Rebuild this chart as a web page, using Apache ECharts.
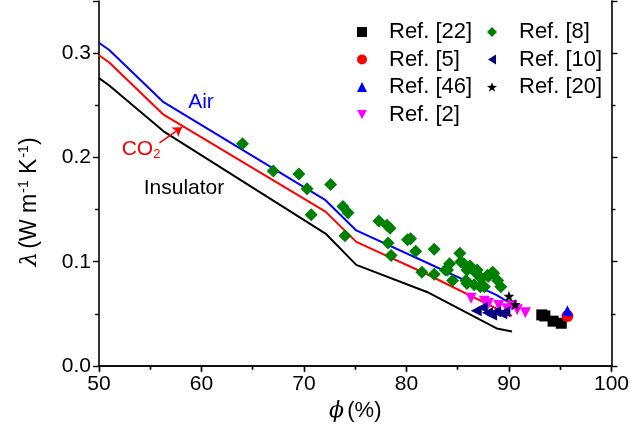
<!DOCTYPE html>
<html>
<head>
<meta charset="utf-8">
<script src="https://cdn.jsdelivr.net/npm/echarts@6/dist/echarts.min.js"></script>
<style>
  html, body { margin: 0; padding: 0; background: #fff; }
  #chart { width: 632px; height: 446px; }
</style>
</head>
<body>
<div id="chart"></div>
<script>
// Model curves: thermal conductivity vs porosity for different pore gases
const airCurve = [[50,0.310],[51,0.303],[56.3,0.253],[72.1,0.159],[75.1,0.130],[82,0.099],[88.8,0.068],[90.5,0.058]];
const co2Curve = [[50,0.298],[51,0.291],[56.3,0.241],[72.1,0.148],[75.1,0.119],[82,0.088],[88.8,0.055],[90.3,0.048]];
const insulatorCurve = [[50,0.276],[51,0.269],[56.3,0.225],[72.1,0.127],[75.1,0.097],[82,0.071],[88.8,0.036],[90.3,0.033]];

// Literature measurements
const ref22 = [[93.2,0.049],[93.5,0.048],[94.3,0.043],[95.1,0.041]];
const ref5 = [[95.7,0.048]];
const ref46 = [[95.7,0.053]];
const ref2 = [[86.3,0.065],[87.6,0.062],[88.0,0.060],[89.0,0.058],[89.8,0.055],[90.3,0.058],[90.8,0.054],[91.6,0.051]];
const ref8 = [[64.0,0.213],[67.0,0.187],[69.5,0.184],[70.3,0.170],[70.7,0.145],[72.6,0.174],[73.8,0.153],[74.3,0.147],[74.0,0.125],
  [77.3,0.139],[78.1,0.135],[78.4,0.132],[78.2,0.118],[78.5,0.106],[80.1,0.121],[80.4,0.122],[80.9,0.110],[82.7,0.112],
  [81.5,0.090],[82.7,0.088],[83.8,0.092],[85.2,0.108],[84.2,0.098],[84.0,0.092],[84.5,0.082],[85.6,0.098],[85.9,0.092],
  [86.9,0.092],[87.9,0.087],[88.4,0.090],[87.2,0.076],[85.8,0.082],[86.6,0.078],[86.8,0.089],[88.0,0.086],[88.5,0.089],
  [89.2,0.076],[87.6,0.076],[85.9,0.079],[85.3,0.100],[86.2,0.096],[87.3,0.084],[88.9,0.082]];
const ref10 = [[86.8,0.053],[87.4,0.056],[87.9,0.051],[88.3,0.049],[88.7,0.052],[89.3,0.050],[89.6,0.052]];
const ref20 = [[90.0,0.067],[90.6,0.059]];

const xTicks = [50, 60, 70, 80, 90, 100];
const yTicks = [0.0, 0.1, 0.2, 0.3];

const FONT = 'Liberation Sans, Arial, sans-serif';
const STAR = 'path://M0,-10L2.35,-3.24L9.51,-3.09L3.8,1.24L5.88,8.09L0,4L-5.88,8.09L-3.8,1.24L-9.51,-3.09L-2.35,-3.24Z';
const TRI_DOWN = 'path://M0,0L10,0L5,9Z';
const TRI_LEFT = 'path://M8,0L8,10L0,5Z';

const chart = echarts.init(document.getElementById('chart'), null, { renderer: 'canvas' });

const axisLine = { show: true, lineStyle: { color: '#000', width: 1.6 } };
const axisTickOut = { show: true, inside: false, length: 6, lineStyle: { color: '#000', width: 1.4 } };
const minorOut = { show: true, splitNumber: 2, length: 4, lineStyle: { color: '#000', width: 1.4 } };

function lineSeries(name, data, color) {
  return { name, type: 'line', data, showSymbol: false, symbol: 'none', silent: true,
    lineStyle: { color, width: 2 }, itemStyle: { color }, z: 2 };
}
function scatterSeries(name, data, symbol, size, color, rotate) {
  return { name, type: 'scatter', data, symbol, symbolSize: size, symbolRotate: rotate || 0,
    itemStyle: { color, opacity: 1 }, z: 3 };
}

const legendText = { fontFamily: FONT, fontSize: 22, color: '#000', lineHeight: 22, padding: [0, 0, 0, 17] };
const legendBase = { orient: 'vertical', top: 16, itemWidth: 10, itemHeight: 10, itemGap: 5.5,
  symbolKeepAspect: true, textStyle: legendText };

chart.setOption({
  animation: false,
  backgroundColor: '#fff',
  grid: { left: 99, right: 17, top: 1, bottom: 80 },
  legend: [
    Object.assign({ left: 352, data: ['Ref. [22]', 'Ref. [5]', 'Ref. [46]', { name: 'Ref. [2]', icon: TRI_DOWN }] }, legendBase),
    Object.assign({ left: 482, data: ['Ref. [8]', { name: 'Ref. [10]', icon: TRI_LEFT }, 'Ref. [20]'] }, legendBase)
  ],
  xAxis: [
    { type: 'value', min: xTicks[0], max: xTicks[xTicks.length - 1], interval: 10,
      name: '{s|ϕ} {n|(%)}', nameLocation: 'middle', nameGap: 34,
      nameTextStyle: { rich: {
        s: { fontFamily: 'DejaVu Serif', fontStyle: 'italic', fontSize: 22, color: '#000' },
        n: { fontFamily: FONT, fontSize: 22, color: '#000' } } },
      axisLine, axisTick: axisTickOut, minorTick: minorOut, splitLine: { show: false },
      axisLabel: { fontFamily: FONT, fontSize: 21, color: '#000', margin: 8 } },
    { type: 'value', position: 'top', min: xTicks[0], max: xTicks[xTicks.length - 1], interval: 10,
      axisLine, axisTick: { show: true, inside: true, length: 5, lineStyle: { color: '#000', width: 1.4 } },
      minorTick: { show: true, splitNumber: 2, length: 3, lineStyle: { color: '#000', width: 1.4 } },
      axisLabel: { show: false }, splitLine: { show: false } }
  ],
  yAxis: [
    { type: 'value', min: 0, max: 0.35, interval: 0.1,
      axisLine, axisTick: axisTickOut, minorTick: minorOut, splitLine: { show: false },
      axisLabel: { fontFamily: FONT, fontSize: 21, color: '#000', margin: 8, showMaxLabel: false,
        formatter: v => (yTicks.some(t => Math.abs(t - v) < 1e-6) ? v.toFixed(1) : '') } },
    { type: 'value', position: 'right', min: 0, max: 0.35, interval: 0.1,
      axisLine, axisTick: axisTickOut, minorTick: minorOut,
      axisLabel: { show: false }, splitLine: { show: false } }
  ],
  series: [
    lineSeries('Air', airCurve, '#0000ff'),
    Object.assign(lineSeries('CO2', co2Curve, '#ff0000'), {
      markLine: { silent: true, symbol: ['none', 'arrow'], symbolSize: 9, label: { show: false },
        lineStyle: { color: '#ff0000', width: 1.6, type: 'solid' },
        data: [[{ coord: [55.9, 0.214] }, { coord: [58.1, 0.229] }]] }
    }),
    lineSeries('Insulator', insulatorCurve, '#000000'),
    scatterSeries('Ref. [8]', ref8, 'diamond', 13, '#008000'),
    scatterSeries('Ref. [2]', ref2, 'triangle', 11, '#ff00ff', 180),
    scatterSeries('Ref. [10]', ref10, 'triangle', 11, '#000080', 90),
    scatterSeries('Ref. [20]', ref20, STAR, 11, '#000000'),
    scatterSeries('Ref. [22]', ref22, 'rect', 11, '#000000'),
    scatterSeries('Ref. [5]', ref5, 'circle', 12, '#ff0000'),
    scatterSeries('Ref. [46]', ref46, 'triangle', 11, '#0000ff')
  ],
  graphic: [
    // y-axis title, reading bottom to top
    { type: 'text', x: 30, y: 202, rotation: Math.PI / 2,
      style: { text: '{l|λ} {n|(W m}{s|-1}{n| K}{s|-1}{n|)}', align: 'center', verticalAlign: 'middle',
        rich: {
          l: { fontFamily: 'DejaVu Serif', fontStyle: 'italic', fontSize: 23, fill: '#000', height: 26, verticalAlign: 'middle' },
          n: { fontFamily: FONT, fontSize: 23, fill: '#000', height: 26, verticalAlign: 'middle' },
          s: { fontFamily: FONT, fontSize: 14, fill: '#000', verticalAlign: 'top', padding: [0, 0, 0, 1] } } } },
    { type: 'text', x: 201, y: 102, style: { text: 'Air', fill: '#0000ff', font: '21px ' + FONT, align: 'center', verticalAlign: 'middle' } },
    { type: 'text', x: 141, y: 149, style: { text: '{a|CO}{b|2}', align: 'center', verticalAlign: 'middle',
        rich: { a: { fontFamily: FONT, fontSize: 21, fill: '#ff0000', height: 24, verticalAlign: 'middle' },
                b: { fontFamily: FONT, fontSize: 13, fill: '#ff0000', verticalAlign: 'bottom' } } } },
    { type: 'text', x: 184, y: 188, style: { text: 'Insulator', fill: '#000', font: '21px ' + FONT, align: 'center', verticalAlign: 'middle' } }
  ]
});
</script>
</body>
</html>
